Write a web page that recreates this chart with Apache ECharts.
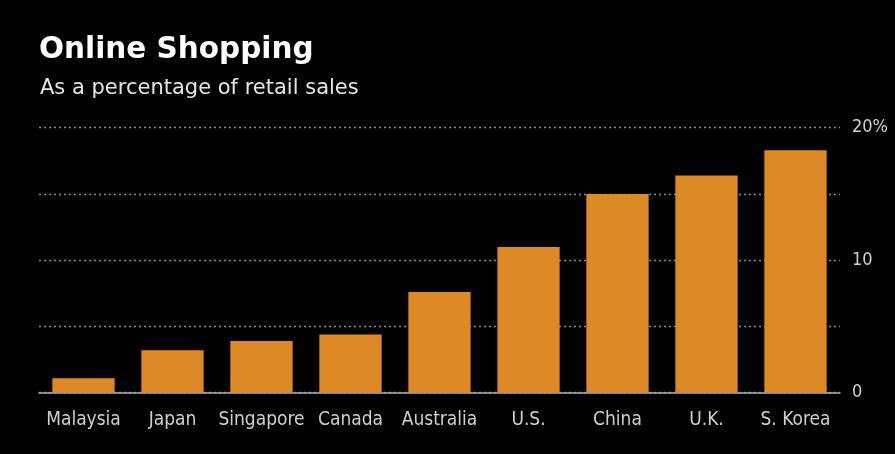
<!DOCTYPE html>
<html>
<head>
<meta charset="utf-8">
<script src="https://cdn.jsdelivr.net/npm/echarts@6/dist/echarts.min.js"></script>
<style>
html,body{margin:0;padding:0;background:#000;}
#c{width:895px;height:454px;}
</style>
</head>
<body>
<div id="c"></div>
<script>
const categories = ['Malaysia','Japan','Singapore','Canada','Australia','U.S.','China','U.K.','S. Korea'];
const values = [1.1, 3.2, 3.9, 4.4, 7.6, 11.0, 15.0, 16.4, 18.3];
const yTicks = {0: '0', 10: '10', 20: '20%'};

const chart = echarts.init(document.getElementById('c'));
chart.setOption({
  backgroundColor: '#000',
  animation: false,
  title: [
    {text: 'Online Shopping', left: 34, top: 30,
     textStyle: {color: '#fff', fontSize: 29.5, fontWeight: 'bold', fontFamily: 'DejaVu Sans'}},
    {text: 'As a percentage of retail sales', left: 35, top: 73,
     textStyle: {color: '#e6e6e6', fontSize: 21, fontWeight: 'normal', fontFamily: 'DejaVu Sans'}}
  ],
  grid: {left: 39, right: 55, top: 127.7, bottom: 61.3, containLabel: false},
  xAxis: {
    type: 'category', data: categories,
    axisLine: {lineStyle: {color: '#b0b0b0', width: 1.5}},
    axisTick: {alignWithLabel: true, length: 7, lineStyle: {color: '#b0b0b0', width: 1.5}},
    axisLabel: {color: '#d0d0d0', fontSize: 19, fontFamily: 'DejaVu Sans Condensed', margin: 18, interval: 0}
  },
  yAxis: {
    type: 'value', position: 'right', min: 0, max: 20, interval: 5,
    axisLine: {show: false}, axisTick: {show: false},
    splitLine: {lineStyle: {color: '#8a8a8a', type: [2, 3], width: 1.3}},
    axisLabel: {color: '#d0d0d0', fontSize: 18, fontFamily: 'DejaVu Sans Condensed', margin: 12,
      formatter: v => yTicks[v] !== undefined ? yTicks[v] : ''}
  },
  series: [{
    type: 'bar', data: values, barCategoryGap: '30%',
    itemStyle: {color: '#DD8A26'}
  }]
});
</script>
</body>
</html>
